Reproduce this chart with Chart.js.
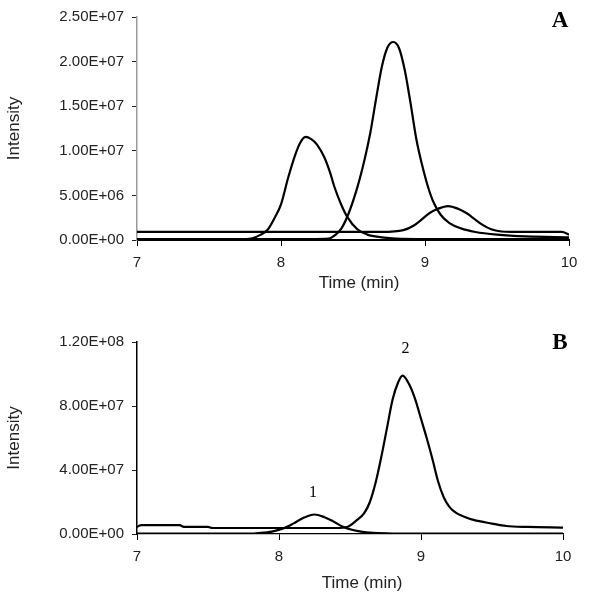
<!DOCTYPE html>
<html>
<head>
<meta charset="utf-8">
<script src="https://cdn.jsdelivr.net/npm/chart.js@4"></script>
<style>
  body { margin: 0; background: #fff; }
  .panel { position: absolute; left: 0; width: 590px; height: 300px; }
</style>
</head>
<body>
<div class="panel" style="top:0"><canvas id="chartA" width="590" height="300"></canvas></div>
<div class="panel" style="top:300px"><canvas id="chartB" width="590" height="300"></canvas></div>
<script>
// panel A - three traces
const timesA1 = [7.0, 7.7, 7.8, 7.86, 7.91, 7.96, 8.0, 8.05, 8.1, 8.13, 8.17, 8.21, 8.25, 8.3, 8.34, 8.37, 8.42, 8.46, 8.53, 8.6, 8.7, 8.8, 9.0, 10.0];
const valuesA1 = [0.1e6, 0.1e6, 0.2e6, 0.6e6, 1.2e6, 2.6e6, 4.0e6, 7.0e6, 9.6e6, 10.8e6, 11.55e6, 11.3e6, 10.7e6, 9.3e6, 7.6e6, 6.0e6, 3.9e6, 2.6e6, 1.2e6, 0.6e6, 0.3e6, 0.15e6, 0.1e6, 0.1e6];

const timesA2 = [7.0, 8.2, 8.33, 8.38, 8.42, 8.47, 8.53, 8.58, 8.62, 8.66, 8.7, 8.74, 8.78, 8.82, 8.86, 8.9, 8.94, 8.98, 9.02, 9.06, 9.11, 9.17, 9.25, 9.35, 9.5, 9.7, 10.0];
const valuesA2 = [0.1e6, 0.1e6, 0.15e6, 0.6e6, 1.3e6, 3.0e6, 5.9e6, 9.0e6, 12.0e6, 15.8e6, 19.4e6, 21.6e6, 22.2e6, 21.5e6, 19.0e6, 15.3e6, 11.3e6, 8.4e6, 6.0e6, 4.2e6, 2.8e6, 1.9e6, 1.3e6, 0.9e6, 0.6e6, 0.4e6, 0.3e6];

const timesA3 = [7.0, 8.7, 8.85, 8.92, 8.97, 9.03, 9.09, 9.16, 9.23, 9.29, 9.34, 9.4, 9.46, 9.53, 9.6, 9.95, 10.0];
const valuesA3 = [0.9e6, 0.9e6, 1.1e6, 1.6e6, 2.2e6, 3.0e6, 3.5e6, 3.8e6, 3.5e6, 3.0e6, 2.4e6, 1.7e6, 1.2e6, 0.95e6, 0.9e6, 0.9e6, 0.6e6];

// panel B - two traces
const timesB1 = [7.0, 7.8, 7.85, 7.95, 8.03, 8.1, 8.17, 8.25, 8.32, 8.38, 8.45, 8.52, 8.6, 8.7, 8.8, 10.0];
const valuesB1 = [0.2e6, 0.2e6, 0.5e6, 1.5e6, 3.5e6, 6.5e6, 10e6, 12.2e6, 10.5e6, 8e6, 4.5e6, 2.5e6, 1.2e6, 0.5e6, 0.2e6, 0.2e6];

const timesB2 = [7.0, 7.03, 7.3, 7.33, 7.5, 7.53, 8.4, 8.48, 8.55, 8.6, 8.64, 8.68, 8.72, 8.76, 8.8, 8.84, 8.87, 8.92, 8.96, 9.0, 9.04, 9.08, 9.12, 9.16, 9.2, 9.25, 9.3, 9.37, 9.5, 9.6, 9.75, 10.0];
const valuesB2 = [4.4e6, 5.6e6, 5.6e6, 4.4e6, 4.4e6, 3.75e6, 3.75e6, 4.4e6, 8.8e6, 13e6, 20e6, 32e6, 48e6, 66e6, 84e6, 95e6, 99e6, 93e6, 84e6, 72e6, 60e6, 47e6, 33e6, 23e6, 17e6, 13e6, 11e6, 8.8e6, 6.5e6, 5e6, 4.4e6, 4.0e6];

// peak labels in panel B
const peakLabels = ["1", "2"];
const peakLabelTimes = [8.24, 8.89];
const peakLabelValues = [2.56e7, 1.16e8];

const SANS = "'Liberation Sans', Arial, sans-serif";
const SERIF = "'Liberation Serif', 'Times New Roman', serif";

// Excel style: 2.50E+07
function sci(v) {
  const parts = Number(v).toExponential(2).split("e");
  const n = parseInt(parts[1], 10);
  return parts[0] + "E" + (n < 0 ? "-" : "+") + String(Math.abs(n)).padStart(2, "0");
}

function trace(times, values) {
  return {
    data: times.map((t, i) => ({ x: t, y: values[i] })),
    borderColor: "#000",
    borderWidth: 2.2,
    pointRadius: 0,
    fill: false,
    cubicInterpolationMode: "monotone",
  };
}

// draws panel letter, x axis title and peak numbers
const labelsPlugin = {
  id: "panelLabels",
  afterDraw(chart, args, opts) {
    const ctx = chart.ctx;
    ctx.save();
    ctx.fillStyle = "#000";
    ctx.textAlign = "center";
    ctx.textBaseline = "middle";
    ctx.font = "bold 23px " + SERIF;
    ctx.fillText(opts.letter, opts.letterX, opts.letterY);
    ctx.fillStyle = "#222";
    ctx.font = "17px " + SANS;
    ctx.fillText("Time (min)", opts.titleX, 283);
    if (opts.peaks) {
      ctx.fillStyle = "#000";
      ctx.font = "16px " + SERIF;
      peakLabels.forEach((txt, i) => {
        const px = chart.scales.x.getPixelForValue(peakLabelTimes[i]);
        const py = chart.scales.y.getPixelForValue(peakLabelValues[i]);
        ctx.fillText(txt, px, py);
      });
    }
    ctx.restore();
  },
};

function makeChart(id, datasets, yMax, yStep, yBorder, xBorderWidth, pad, plotH, letterY, titleX, peaks) {
  return new Chart(document.getElementById(id).getContext("2d"), {
    type: "line",
    data: { datasets: datasets },
    plugins: [labelsPlugin],
    options: {
      responsive: false,
      animation: false,
      devicePixelRatio: 1,
      layout: { padding: pad },
      plugins: {
        legend: { display: false },
        tooltip: { enabled: false },
        panelLabels: { letter: id === "chartA" ? "A" : "B", letterX: 560, letterY: letterY, titleX: titleX, peaks: peaks },
      },
      scales: {
        x: {
          type: "linear",
          min: 7,
          max: 10,
          ticks: { stepSize: 1, color: "#222", padding: 8, maxRotation: 0, font: { size: 15, family: SANS } },
          grid: { drawOnChartArea: false, tickLength: 6, color: "#000" },
          border: { color: "#000", width: xBorderWidth },
          afterFit: (s) => { s.height = 300 - pad.top - plotH; },
        },
        y: {
          min: 0,
          max: yMax,
          ticks: { stepSize: yStep, color: "#222", padding: 8, callback: (v) => sci(v), font: { size: 15, family: SANS } },
          grid: { drawOnChartArea: false, tickLength: 5, color: "#222" },
          border: { color: yBorder, width: 1.5 },
          title: { display: true, text: "Intensity", color: "#222", font: { size: 17, family: SANS }, padding: { top: 4, bottom: 4 } },
          afterFit: (s) => { s.width = 137; },
        },
      },
    },
  });
}

makeChart("chartA",
  [trace(timesA1, valuesA1), trace(timesA2, valuesA2), trace(timesA3, valuesA3)],
  2.5e7, 5e6, "#999", 2, { top: 17, right: 21, left: 0, bottom: 0 }, 223, 21, 359, false);

makeChart("chartB",
  [trace(timesB1, valuesB1), trace(timesB2, valuesB2)],
  1.2e8, 4e7, "#000", 1.3, { top: 42, right: 27, left: 0, bottom: 0 }, 192, 43, 362, true);
</script>
</body>
</html>
